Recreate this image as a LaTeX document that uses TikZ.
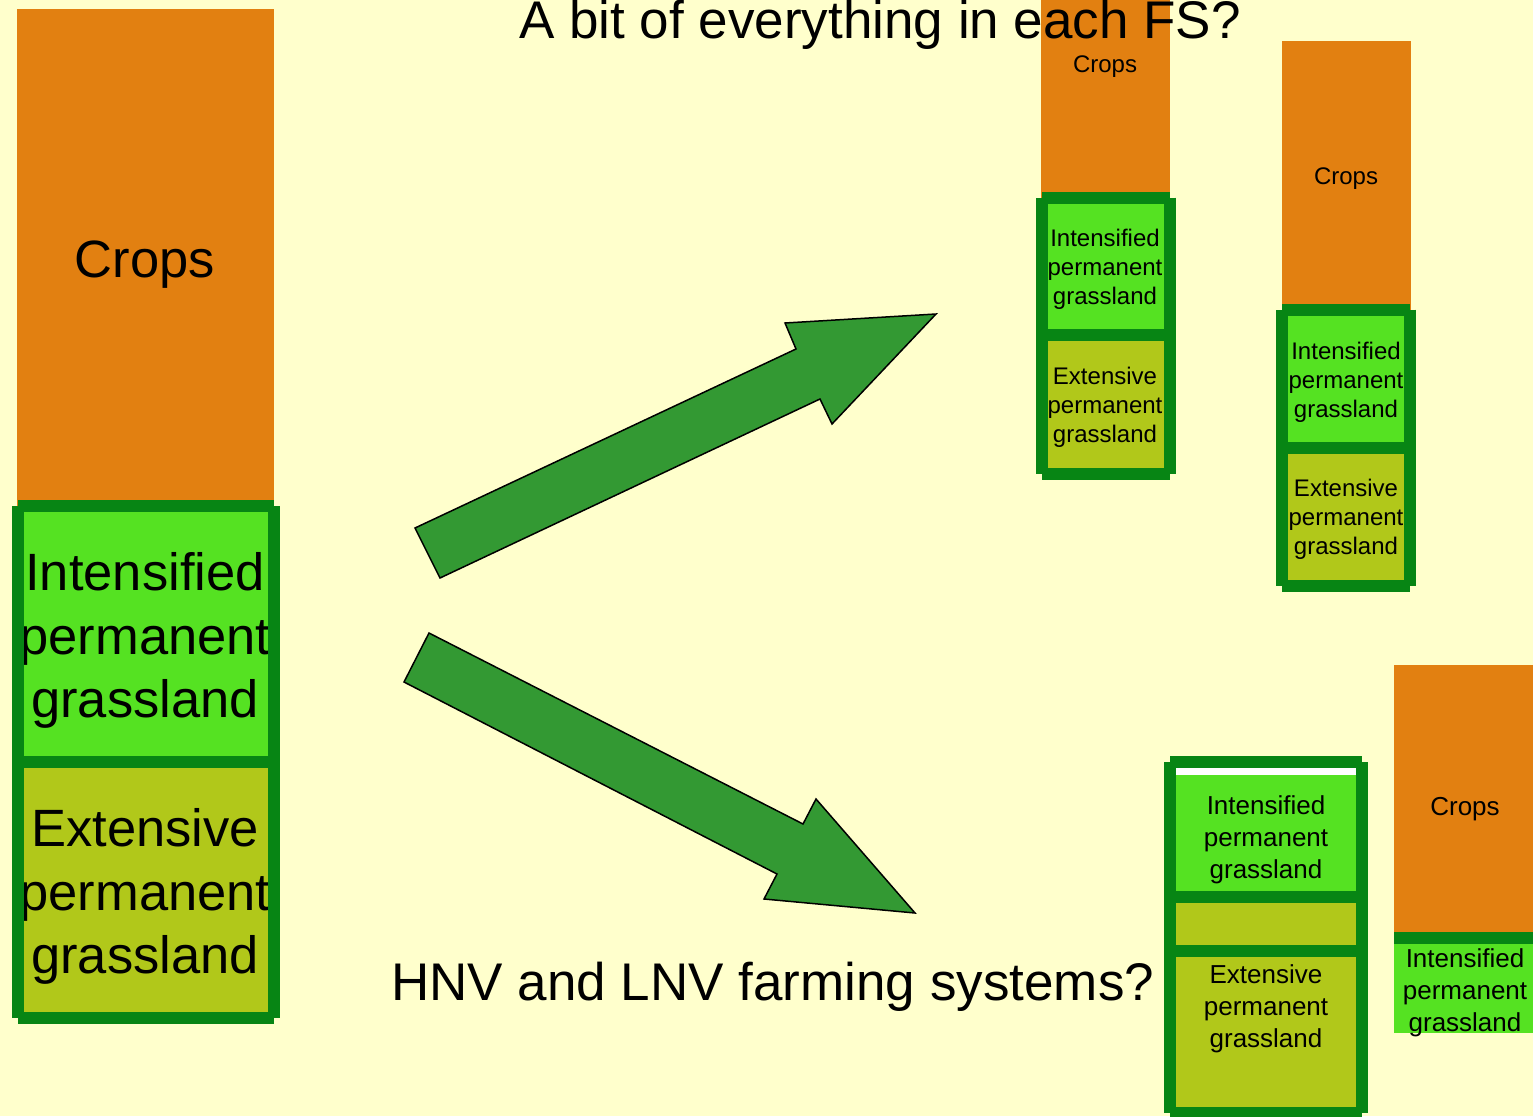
\documentclass[tikz,border=0pt]{standalone}
\usepackage{fontspec}
\setmainfont{Liberation Sans}
\definecolor{bgyellow}{RGB}{255,255,204}
\definecolor{cropor}{RGB}{226,128,17}
\definecolor{intgreen}{RGB}{85,226,34}
\definecolor{extolive}{RGB}{177,200,26}
\definecolor{framegreen}{RGB}{7,133,20}
\definecolor{arrowgreen}{RGB}{51,153,51}
\newcommand\fsBig{\fontsize{52.5}{63.5}\selectfont}
\newcommand\fsSmall{\fontsize{24}{29}\selectfont}
\newcommand\fsMid{\fontsize{26}{32}\selectfont}
\newcommand\fsTitle{\fontsize{53}{64}\selectfont}
\tikzset{
  lab/.style={inner sep=0pt, align=center, text=black},
  framebar/.style={line width=12pt, draw=framegreen, line cap=butt},
  blockarrow/.style={fill=arrowgreen, draw=black, line width=1.5pt, line join=miter},
}
\begin{document}
\begin{tikzpicture}[x=1pt,y=-1pt]
\useasboundingbox (0,0) rectangle (1533,1116);
\fill[bgyellow] (0,0) rectangle (1533,1116);
\clip (0,0) rectangle (1533,1116);

% ---------- left column ----------
\fill[cropor] (17,9) rectangle (274,506);
\fill[intgreen] (18,506) rectangle (274,762);
\fill[extolive] (18,762) rectangle (274,1017.5);
\node[lab, font=\fsBig] (lcrops) at (145,265) {Crops};
\node[lab, font=\fsBig] (lint) at (145,640.5) {Intensified\\permanent\\grassland};
\node[lab, font=\fsBig] (lext) at (145,896.5) {Extensive\\permanent\\grassland};
\foreach \yy in {506,762,1017.5} \draw[framebar] (18,\yy) -- (274,\yy);
\draw[framebar] (18,506) -- (18,1017.5);
\draw[framebar] (274,506) -- (274,1017.5);

% ---------- column 1 (top) ----------
\fill[cropor] (1041,-5) rectangle (1170,197.5);
\fill[intgreen] (1042,197.5) rectangle (1170,335);
\fill[extolive] (1042,335) rectangle (1170,473.5);
\node[lab, font=\fsSmall] (acrops) at (1105,67) {Crops};
\node[lab, font=\fsSmall] (aint) at (1105,269) {Intensified\\permanent\\grassland};
\node[lab, font=\fsSmall] (aext) at (1105,407) {Extensive\\permanent\\grassland};
\foreach \yy in {197.5,335,473.5} \draw[framebar] (1042,\yy) -- (1170,\yy);
\draw[framebar] (1042,197.5) -- (1042,473.5);
\draw[framebar] (1170,197.5) -- (1170,473.5);

% ---------- column 2 (top) ----------
\fill[cropor] (1282,41) rectangle (1410.7,309.5);
\fill[intgreen] (1282,309.5) rectangle (1410,447.5);
\fill[extolive] (1282,447.5) rectangle (1410,585.5);
\node[lab, font=\fsSmall] (bcrops) at (1346,179) {Crops};
\node[lab, font=\fsSmall] (bint) at (1346,382) {Intensified\\permanent\\grassland};
\node[lab, font=\fsSmall] (bext) at (1346,519) {Extensive\\permanent\\grassland};
\foreach \yy in {309.5,447.5,585.5} \draw[framebar] (1282,\yy) -- (1410,\yy);
\draw[framebar] (1282,309.5) -- (1282,585.5);
\draw[framebar] (1410,309.5) -- (1410,585.5);

% ---------- column 3 (bottom) ----------
\fill[white] (1170,762) rectangle (1362,775);
\fill[intgreen] (1170,775) rectangle (1362,896.7);
\fill[extolive] (1170,896.7) rectangle (1362,1113);
\node[lab, font=\fsMid] (cint) at (1266,840) {Intensified\\permanent\\grassland};
\node[lab, font=\fsMid] (cext) at (1266,1009) {Extensive\\permanent\\grassland};
\foreach \yy in {762,896.7,951.3,1113} \draw[framebar] (1170,\yy) -- (1362,\yy);
\draw[framebar] (1170,762) -- (1170,1113);
\draw[framebar] (1362,762) -- (1362,1113);

% ---------- column 4 (bottom right) ----------
\fill[cropor] (1394,665) rectangle (1536,931.7);
\fill[framegreen] (1394,931.7) rectangle (1536,944);
\fill[intgreen] (1394,944) rectangle (1536,1033);
\node[lab, font=\fsMid] (dcrops) at (1465,809.5) {Crops};
\node[lab, font=\fsMid] (dint) at (1465,993) {Intensified\\permanent\\grassland};

% ---------- block arrows ----------
\draw[blockarrow] (415,528) -- (796,349) -- (785,323) -- (936,314) -- (832,424) -- (820,399) -- (440,578) -- cycle;
\draw[blockarrow] (429,633) -- (803,824) -- (816,799) -- (915,913) -- (764,899) -- (777,874) -- (404,682) -- cycle;

% ---------- captions ----------
\node[lab, font=\fsTitle, anchor=base] (title) at (880,39) {A bit of everything in each FS?};
\node[lab, font=\fsTitle, anchor=base west] (hnv) at (391,1000) {HNV and LNV farming systems?};
\end{tikzpicture}
\end{document}
